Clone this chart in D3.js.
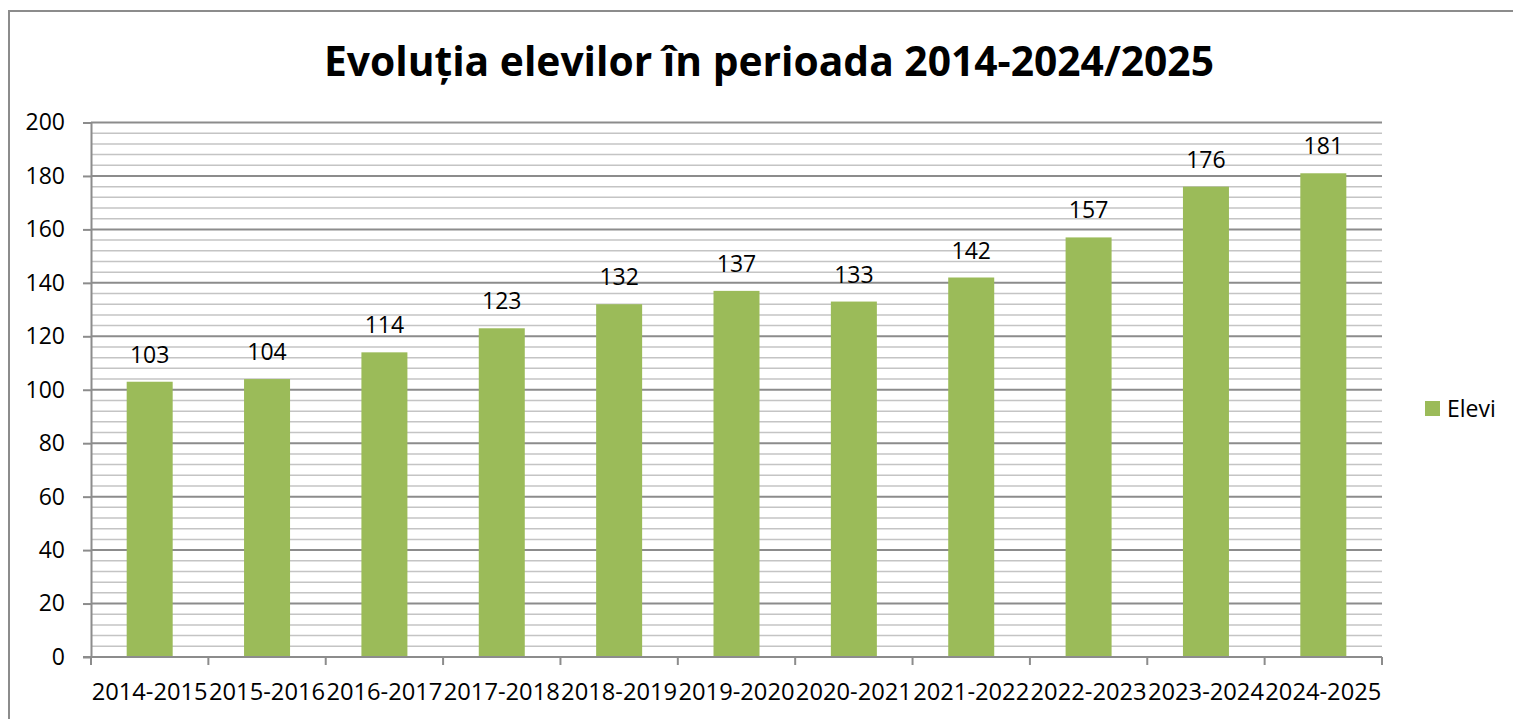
<!DOCTYPE html>
<meta charset="utf-8">
<style>
body {
  margin: 0;
  background: #fff;
}
svg text {
  font-family: "Open Sans", "Noto Sans", sans-serif;
  fill: #000;
}
</style>
<svg></svg>
<script src="https://cdn.jsdelivr.net/npm/d3@7/dist/d3.min.js"></script>
<script>

// data
var years = ["2014-2015", "2015-2016", "2016-2017", "2017-2018", "2018-2019", "2019-2020",
             "2020-2021", "2021-2022", "2022-2023", "2023-2024", "2024-2025"];
var elevi = [103, 104, 114, 123, 132, 137, 133, 142, 157, 176, 181];
var yTicks = [0, 20, 40, 60, 80, 100, 120, 140, 160, 180, 200];
var seriesName = "Elevi";
var title = "Evoluția elevilor în perioada 2014-2024/2025";

var width = 1513,
    height = 719;

var plot = {left: 91, right: 1382, top: 122.5, bottom: 657};

var svg = d3.select("svg")
    .attr("width", width)
    .attr("height", height);

// chart area border (runs off the page right and bottom)
svg.append("rect")
    .attr("x", 9)
    .attr("y", 11)
    .attr("width", 1600)
    .attr("height", 800)
    .attr("fill", "none")
    .attr("stroke", "#8c8c8c")
    .attr("stroke-width", 2);

var x = d3.scaleBand()
    .domain(years)
    .range([plot.left, plot.right])
    .paddingInner(0)
    .paddingOuter(0);

var y = d3.scaleLinear()
    .domain([0, 200])
    .range([plot.bottom, plot.top]);

// minor gridlines every 4
var minor = d3.range(0, 201, 4).filter(function(d) { return d % 20 !== 0; });
svg.append("g")
  .selectAll("line")
  .data(minor)
  .enter().append("line")
    .attr("x1", plot.left)
    .attr("x2", plot.right)
    .attr("y1", function(d) { return y(d); })
    .attr("y2", function(d) { return y(d); })
    .attr("stroke", "#c4c4c4")
    .attr("stroke-width", 1.5);

// major gridlines
svg.append("g")
  .selectAll("line")
  .data(yTicks.slice(1))
  .enter().append("line")
    .attr("x1", plot.left)
    .attr("x2", plot.right)
    .attr("y1", function(d) { return y(d); })
    .attr("y2", function(d) { return y(d); })
    .attr("stroke", "#8c8c8c")
    .attr("stroke-width", 2);

// y axis
var yAxis = svg.append("g")
    .attr("transform", "translate(" + plot.left + ",0)")
    .call(d3.axisLeft(y).tickValues(yTicks).tickSize(8).tickPadding(18).tickSizeOuter(0));
yAxis.select(".domain").attr("stroke", "#8c8c8c").attr("stroke-width", 2);
yAxis.selectAll(".tick line").attr("stroke", "#8c8c8c").attr("stroke-width", 2);
yAxis.selectAll(".tick text")
    .attr("font-size", 23)
    .attr("font-family", null)
    .attr("fill", "#000");

// bars
var barW = 46;
svg.append("g")
  .selectAll("rect")
  .data(elevi)
  .enter().append("rect")
    .attr("x", function(d, i) { return x(years[i]) + x.bandwidth() / 2 - barW / 2; })
    .attr("y", function(d) { return y(d); })
    .attr("width", barW)
    .attr("height", function(d) { return plot.bottom - y(d); })
    .attr("fill", "#9bbb59");

// data labels
svg.append("g")
  .selectAll("text")
  .data(elevi)
  .enter().append("text")
    .attr("x", function(d, i) { return x(years[i]) + x.bandwidth() / 2; })
    .attr("y", function(d) { return y(d) - 19; })
    .attr("text-anchor", "middle")
    .attr("font-size", 23)
    .text(function(d) { return d; });

// x axis with ticks on category boundaries
var xAxis = svg.append("g")
    .attr("transform", "translate(0," + plot.bottom + ")");
xAxis.append("line")
    .attr("x1", plot.left - 8)
    .attr("x2", plot.right)
    .attr("stroke", "#8c8c8c")
    .attr("stroke-width", 2);
xAxis.selectAll("line.tk")
    .data(d3.range(years.length + 1))
  .enter().append("line")
    .attr("class", "tk")
    .attr("x1", function(i) { return plot.left + i * x.step(); })
    .attr("x2", function(i) { return plot.left + i * x.step(); })
    .attr("y1", 0)
    .attr("y2", 8)
    .attr("stroke", "#8c8c8c")
    .attr("stroke-width", 2);
xAxis.selectAll("text")
    .data(years)
  .enter().append("text")
    .attr("x", function(d) { return x(d) + x.bandwidth() / 2; })
    .attr("y", 43)
    .attr("text-anchor", "middle")
    .attr("font-size", 23)
    .attr("textLength", 116)
    .attr("lengthAdjust", "spacingAndGlyphs")
    .text(function(d) { return d; });

// title
svg.append("text")
    .attr("x", 769)
    .attr("y", 76)
    .attr("text-anchor", "middle")
    .attr("font-size", 41)
    .attr("font-weight", "bold")
    .attr("textLength", 890)
    .attr("lengthAdjust", "spacingAndGlyphs")
    .text(title);

// legend
var legend = svg.append("g")
    .attr("transform", "translate(1425,401)");
legend.append("rect")
    .attr("width", 15)
    .attr("height", 15)
    .attr("fill", "#9bbb59");
legend.append("text")
    .attr("x", 22)
    .attr("y", 16)
    .attr("font-size", 23)
    .text(seriesName);

</script>
